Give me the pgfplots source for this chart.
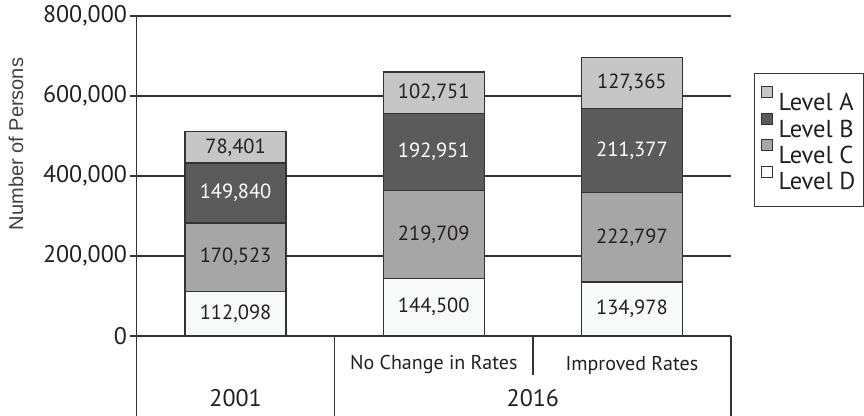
\documentclass[border=0pt]{standalone}
\usepackage{pgfplots}
\pgfplotsset{compat=1.18}
\usepackage{pgfplotstable}
\usepackage{fontspec}
\setmainfont{PT Sans}
\setsansfont{Liberation Sans}

\definecolor{lvlA}{HTML}{C6C6C6}
\definecolor{lvlB}{HTML}{5B5B5B}
\definecolor{lvlC}{HTML}{A6A6A6}
\definecolor{lvlD}{HTML}{F8FAFA}
\definecolor{edge}{HTML}{333333}
\definecolor{txt}{HTML}{231F20}

% one row per bar: 2001, 2016 no change, 2016 improved
\pgfplotstableread{
x D C B A
0 112098 170523 149840 78401
1 144500 219709 192951 102751
2 134978 222797 211377 127365
}\levels

\begin{document}
\begin{tikzpicture}
\begin{axis}[
    name=ax,
    ybar stacked,
    bar width=101pt,
    scale only axis,
    width=594.5pt, height=320pt,
    xmin=-0.5, xmax=2.5,
    ymin=0, ymax=800000,
    clip=false,
    axis x line=bottom, axis y line=left,
    axis line style={edge, line width=1.4pt, -},
    ytick={0,200000,400000,600000,800000},
    ymajorgrids,
    grid style={edge, line width=1.4pt},
    tick align=outside,
    major tick length=6pt,
    tick style={edge, line width=1.4pt},
    xtick={1,2},
    xticklabels={No Change in Rates, Improved Rates},
    xtick style={draw=none},
    xticklabel style={font=\fontsize{20}{24}\selectfont, text=txt, anchor=center, yshift=-23pt},
    extra x ticks={0,1.5},
    extra x tick labels={2001,2016},
    extra x tick style={xticklabel style={font=\fontsize{24}{28}\selectfont, yshift=-33pt}},
    scaled y ticks=false,
    yticklabel style={font=\fontsize{24}{28}\selectfont, text=txt},
    ylabel={Number of Persons},
    ylabel style={at={(axis description cs:-0.2027,0.6)}, rotate=0, anchor=center,
        font=\sffamily\fontsize{20}{24}\selectfont, text=black!75},
    legend style={at={(1.0387,0.822)}, anchor=north west, draw=edge, line width=1pt,
        font=\fontsize{24.5}{26}\selectfont, text=txt, row sep=-1.5pt, inner xsep=6pt, inner ysep=13pt},
    legend cell align=left,
    legend image code/.code={\draw[#1, line width=0.8pt] (0pt,5pt) rectangle (11pt,16pt); \path (15pt,0pt);},
    reverse legend,
    /pgf/number format/fixed,
    /pgf/number format/1000 sep={,},
    /pgf/number format/assume math mode=true,
]
\addplot[fill=lvlD, draw=edge, line width=1.2pt] table[x=x, y=D] {\levels};
\addplot[fill=lvlC, draw=edge, line width=1.2pt] table[x=x, y=C] {\levels};
\addplot[fill=lvlB, draw=edge, line width=1.2pt] table[x=x, y=B] {\levels};
\addplot[fill=lvlA, draw=edge, line width=1.2pt] table[x=x, y=A] {\levels};
\legend{Level D, Level C, Level B, Level A}

\draw[edge, line width=1.4pt] (axis cs:-0.5,0) -- ([yshift=-80pt]axis cs:-0.5,0);
\draw[edge, line width=1.4pt] (axis cs:0.5,0) -- ([yshift=-80pt]axis cs:0.5,0);
\draw[edge, line width=1.4pt] (axis cs:1.5,0) -- ([yshift=-39pt]axis cs:1.5,0);
\draw[edge, line width=1.4pt] (axis cs:2.5,0) -- ([yshift=-80pt]axis cs:2.5,0);
\end{axis}

% value labels, centred in each segment
\begin{axis}[
    at={(ax.south west)}, anchor=south west,
    scale only axis,
    width=594.5pt, height=320pt,
    xmin=-0.5, xmax=2.5,
    ymin=0, ymax=800000,
    hide axis, clip=false,
    nodes near coords,
    point meta=explicit,
    every node near coord/.append style={anchor=center, font=\fontsize{20.5}{24}\selectfont, text=txt},
    /pgf/number format/fixed,
    /pgf/number format/1000 sep={,},
    /pgf/number format/assume math mode=true,
]
\addplot[draw=none, mark=none] table[x=x, y expr=\thisrow{D}/2, meta=D] {\levels};
\addplot[draw=none, mark=none] table[x=x, y expr=\thisrow{D}+\thisrow{C}/2, meta=C] {\levels};
\addplot[draw=none, mark=none, every node near coord/.append style={text=white}]
    table[x=x, y expr=\thisrow{D}+\thisrow{C}+\thisrow{B}/2, meta=B] {\levels};
\addplot[draw=none, mark=none]
    table[x=x, y expr=\thisrow{D}+\thisrow{C}+\thisrow{B}+\thisrow{A}/2, meta=A] {\levels};
\end{axis}

\pgfresetboundingbox
\path[use as bounding box] ([xshift=-136.5pt,yshift=-80pt]ax.south west) rectangle ([xshift=133pt,yshift=16pt]ax.north east);
\end{tikzpicture}
\end{document}
